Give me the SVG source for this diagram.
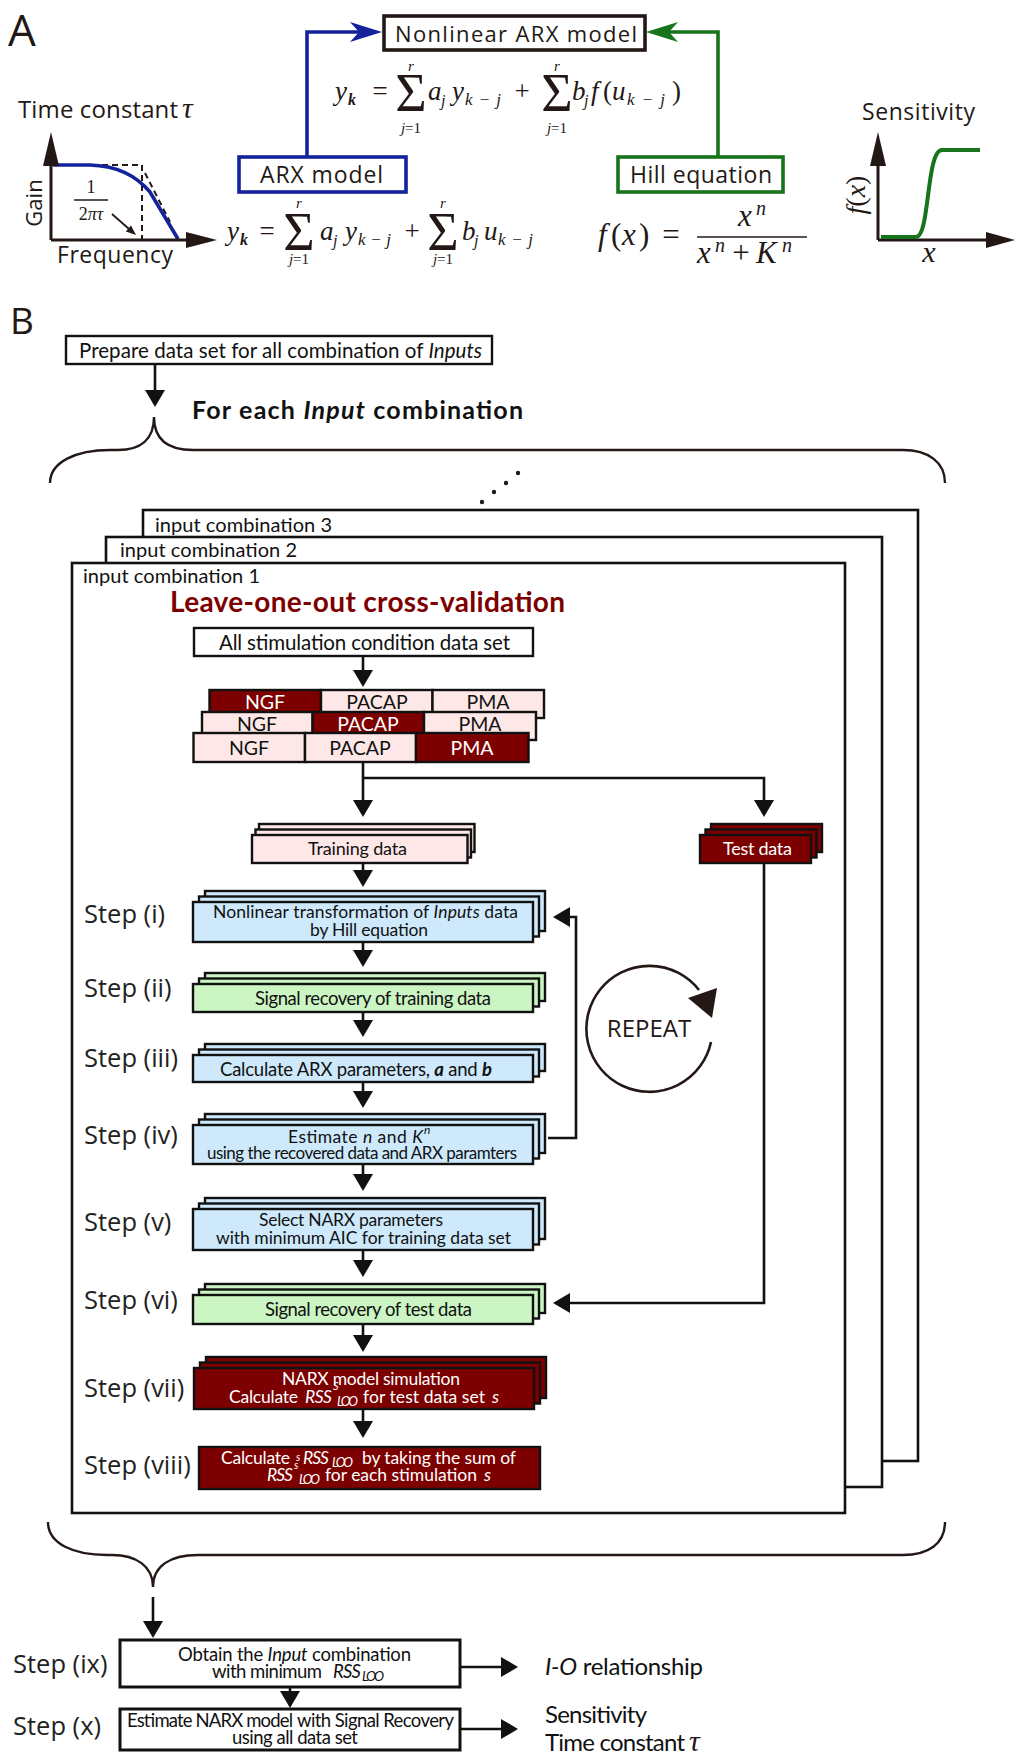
<svg xmlns="http://www.w3.org/2000/svg" width="1016" height="1754" viewBox="0 0 1016 1754">
<defs>
<style>
.sa{font-family:"Open Sans","Noto Sans",sans-serif;fill:#231815}
.lb{font-family:Lato,"Open Sans",sans-serif;fill:#111}
.lbb{font-family:Lato,"Open Sans",sans-serif;font-weight:bold}
.m{font-family:"Liberation Serif","Times New Roman",serif;font-style:italic;fill:#231815}
.up{font-style:normal}
.it{font-style:italic}
.wt{fill:#fff}
.bx{stroke:#111;stroke-width:2.4}
.fb{fill:#cde9fb}
.fg{fill:#cbf5c3}
.fp{fill:#fde7e7}
.fr{fill:#7d0000}
.fw{fill:#fff}
.cn{fill:none;stroke:#111;stroke-width:2.6}
.ax{fill:none;stroke:#231815;stroke-width:3}
.br{fill:none;stroke:#231815;stroke-width:2.4}
.stp{font-family:"Open Sans","Noto Sans",sans-serif;font-size:25.5px;fill:#222}
</style>
<marker id="ah" viewBox="0 0 17 20" refX="2" refY="10" markerWidth="17" markerHeight="20" markerUnits="userSpaceOnUse" orient="auto"><path d="M0,0 L17,10 L0,20 z" fill="#111"/></marker>
</defs>
<rect x="0" y="0" width="1016" height="1754" fill="#fff"/>

<!-- ================= Section A ================= -->
<g id="label-A"><text class="sa" x="8" y="46" font-size="44">A</text></g>

<g id="connectors-A">
  <path d="M307,156 V32 H362" fill="none" stroke="#13239b" stroke-width="3.6"/>
  <polygon points="382,32 350,22 359,32 350,42" fill="#13239b"/>
  <path d="M718,156 V32 H666" fill="none" stroke="#17731c" stroke-width="3.6"/>
  <polygon points="646,32 678,22 669,32 678,42" fill="#17731c"/>
</g>

<g id="node-narx">
  <rect x="384" y="16" width="261" height="34" fill="#fff" stroke="#231815" stroke-width="3.6"/>
  <text class="sa" x="395" y="42" font-size="22" textLength="242">Nonlinear ARX model</text>
  <g id="eq-narx">
    <text class="m" font-size="27" x="335" y="100">y</text>
    <text class="m" font-size="16" x="348" y="105" font-weight="bold">k</text>
    <text class="m up" font-size="27" x="380" y="100" text-anchor="middle">=</text>
    <text class="m up" font-size="54" x="411" y="111" text-anchor="middle">Σ</text>
    <text class="m" font-size="15" x="411" y="71" text-anchor="middle">r</text>
    <text class="m" font-size="15" x="411" y="133" text-anchor="middle">j<tspan class="up">=1</tspan></text>
    <text class="m" font-size="27" x="428" y="100">a</text>
    <text class="m" font-size="16" x="441" y="106">j</text>
    <text class="m" font-size="27" x="452" y="100">y</text>
    <text class="m" font-size="17" x="465" y="105" textLength="36">k−j</text>
    <text class="m up" font-size="27" x="522" y="100" text-anchor="middle">+</text>
    <text class="m up" font-size="54" x="557" y="111" text-anchor="middle">Σ</text>
    <text class="m" font-size="15" x="557" y="71" text-anchor="middle">r</text>
    <text class="m" font-size="15" x="557" y="133" text-anchor="middle">j<tspan class="up">=1</tspan></text>
    <text class="m" font-size="27" x="572" y="100">b</text>
    <text class="m" font-size="16" x="584" y="106">j</text>
    <text class="m" font-size="27" x="591" y="100">f</text>
    <text class="m up" font-size="27" x="603" y="100">(</text>
    <text class="m" font-size="27" x="612" y="100">u</text>
    <text class="m" font-size="17" x="627" y="105" textLength="38">k−j</text>
    <text class="m up" font-size="27" x="672" y="100">)</text>
  </g>
</g>

<g id="node-arx">
  <rect x="239" y="157" width="167" height="35" fill="#fff" stroke="#13239b" stroke-width="3.6"/>
  <text class="sa" x="260" y="183" font-size="23" textLength="123">ARX model</text>
  <g id="eq-arx">
    <text class="m" font-size="27" x="227" y="240">y</text>
    <text class="m" font-size="16" x="240" y="245" font-weight="bold">k</text>
    <text class="m up" font-size="27" x="267" y="240" text-anchor="middle">=</text>
    <text class="m up" font-size="54" x="299" y="250" text-anchor="middle">Σ</text>
    <text class="m" font-size="15" x="299" y="208" text-anchor="middle">r</text>
    <text class="m" font-size="15" x="299" y="264" text-anchor="middle">j<tspan class="up">=1</tspan></text>
    <text class="m" font-size="27" x="320" y="240">a</text>
    <text class="m" font-size="16" x="333" y="246">j</text>
    <text class="m" font-size="27" x="345" y="240">y</text>
    <text class="m" font-size="17" x="358" y="245" textLength="33">k−j</text>
    <text class="m up" font-size="27" x="412" y="240" text-anchor="middle">+</text>
    <text class="m up" font-size="54" x="443" y="250" text-anchor="middle">Σ</text>
    <text class="m" font-size="15" x="443" y="208" text-anchor="middle">r</text>
    <text class="m" font-size="15" x="443" y="264" text-anchor="middle">j<tspan class="up">=1</tspan></text>
    <text class="m" font-size="27" x="462" y="240">b</text>
    <text class="m" font-size="16" x="474" y="246">j</text>
    <text class="m" font-size="27" x="484" y="240">u</text>
    <text class="m" font-size="17" x="498" y="245" textLength="35">k−j</text>
  </g>
</g>

<g id="node-hill">
  <rect x="618" y="157" width="165" height="35" fill="#fff" stroke="#17731c" stroke-width="3.6"/>
  <text class="sa" x="630" y="183" font-size="23" textLength="142">Hill equation</text>
  <g id="eq-hill">
    <text class="m" font-size="31" x="598" y="245">f</text>
    <text class="m up" font-size="31" x="611" y="245">(</text>
    <text class="m" font-size="31" x="622" y="245">x</text>
    <text class="m up" font-size="31" x="639" y="245">)</text>
    <text class="m up" font-size="31" x="671" y="245" text-anchor="middle">=</text>
    <line x1="697" y1="237" x2="807" y2="237" stroke="#231815" stroke-width="1.6"/>
    <text class="m" font-size="31" x="738" y="226">x</text>
    <text class="m" font-size="20" x="756" y="215">n</text>
    <text class="m" font-size="31" x="697" y="263">x</text>
    <text class="m" font-size="20" x="715" y="252">n</text>
    <text class="m up" font-size="31" x="741" y="263" text-anchor="middle">+</text>
    <text class="m" font-size="31" x="756" y="263">K</text>
    <text class="m" font-size="20" x="782" y="252">n</text>
  </g>
</g>

<g id="plot-gain">
  <text class="sa" x="18" y="118" font-size="24" textLength="160">Time constant</text>
  <text class="m" x="182" y="118" font-size="30">τ</text>
  <path d="M52,165 L142,165 M142,165 L142,240 M145,173 L170,222" fill="none" stroke="#231815" stroke-width="2" stroke-dasharray="6,4"/>
  <path d="M53,165 L90,165 Q128,166 150,192 L178,239" fill="none" stroke="#13239b" stroke-width="3.6"/>
  <path d="M51,240 V160 M51,240 H190" class="ax"/>
  <polygon points="51,132 43,166 59,166" fill="#231815"/>
  <polygon points="217,240 186,232 186,248" fill="#231815"/>
  <text class="sa" x="42" y="203" font-size="22" text-anchor="middle" transform="rotate(-90 42 203)">Gain</text>
  <text class="sa" x="57" y="263" font-size="23" textLength="116">Frequency</text>
  <text class="m up" x="91" y="193" font-size="18" text-anchor="middle">1</text>
  <line x1="74" y1="200" x2="108" y2="200" stroke="#231815" stroke-width="1.5"/>
  <text class="m" x="91" y="220" font-size="18" text-anchor="middle"><tspan class="up">2</tspan>πτ</text>
  <line x1="112" y1="214" x2="129" y2="229" stroke="#231815" stroke-width="1.8"/>
  <polygon points="136,235 125.8,231.5 131,225.5" fill="#231815"/>
</g>

<g id="plot-sensitivity">
  <text class="sa" x="862" y="120" font-size="23" textLength="113">Sensitivity</text>
  <path d="M878,240 V160 M878,240 H988" class="ax"/>
  <polygon points="878,132 870,166 886,166" fill="#231815"/>
  <polygon points="1015,240 986,232 986,248" fill="#231815"/>
  <path d="M881,237 L916,237 C930,237 926,150 942,150 L980,150" fill="none" stroke="#17731c" stroke-width="4"/>
  <text class="m" x="865" y="195" font-size="28" text-anchor="middle" transform="rotate(-90 865 195)">f<tspan class="up">(</tspan>x<tspan class="up">)</tspan></text>
  <text class="m" x="929" y="262" font-size="30" text-anchor="middle">x</text>
</g>

<!-- ================= Section B ================= -->
<g id="label-B"><text class="sa" x="10" y="334" font-size="37">B</text></g>

<g id="node-prepare">
  <rect x="66" y="336" width="426" height="28" fill="#fff" class="bx"/>
  <text class="lb" x="79" y="358" font-size="20.5" textLength="403">Prepare data set for all combination of <tspan class="it">Inputs</tspan></text>
</g>

<g id="header-each">
  <text class="lbb" x="192" y="419" font-size="25" fill="#111" textLength="331">For each  <tspan class="it">Input</tspan>  combination</text>
  <path class="br" d="M50,483 C50,462 76,450 110,450 L118,450 C140,450 154,440 154,417 C154,440 168,450 193,450 L903,450 C928,450 945,462 945,483"/>
  <g fill="#231815"><circle cx="482" cy="502" r="2.2"/><circle cx="494" cy="492" r="2.2"/><circle cx="506" cy="483" r="2.2"/><circle cx="518" cy="473" r="2.2"/></g>
</g>

<g id="frames">
  <rect x="143" y="510" width="775" height="951" fill="#fff" stroke="#111" stroke-width="2.6"/>
  <text class="lb" x="155" y="532" font-size="20" textLength="177">input combination 3</text>
  <rect x="106" y="537" width="776" height="950" fill="#fff" stroke="#111" stroke-width="2.6"/>
  <text class="lb" x="120" y="557" font-size="20" textLength="177">input combination 2</text>
  <rect x="72" y="563" width="773" height="950" fill="#fff" stroke="#111" stroke-width="2.6"/>
  <text class="lb" x="83" y="583" font-size="20" textLength="177">input combination 1</text>
  <text class="lbb" x="170" y="612" font-size="28" fill="#7d0000" textLength="395">Leave-one-out cross-validation</text>
</g>

<g id="node-allstim">
  <rect x="194" y="628" width="339" height="28" fill="#fff" class="bx"/>
  <text class="lb" x="219" y="650" font-size="20.5" textLength="291">All stimulation condition data set</text>
</g>

<g id="node-rows" font-family="Lato,'Open Sans',sans-serif" font-size="19.5" text-anchor="middle">
  <rect x="209.5" y="690" width="111.5" height="28" class="bx fr"/>
  <rect x="321" y="690" width="111.5" height="28" class="bx fp"/>
  <rect x="432.5" y="690" width="111.5" height="28" class="bx fp"/>
  <text x="265" y="709" fill="#fff">NGF</text>
  <text x="377" y="709" fill="#111">PACAP</text>
  <text x="488" y="709" fill="#111">PMA</text>
  <rect x="202" y="712" width="110.6" height="28" class="bx fp"/>
  <rect x="312.6" y="712" width="111.4" height="28" class="bx fr"/>
  <rect x="424" y="712" width="112" height="28" class="bx fp"/>
  <text x="257" y="731" fill="#111">NGF</text>
  <text x="368" y="731" fill="#fff">PACAP</text>
  <text x="480" y="731" fill="#111">PMA</text>
  <rect x="193.5" y="733" width="111.5" height="29" class="bx fp"/>
  <rect x="305" y="733" width="111" height="29" class="bx fp"/>
  <rect x="416" y="733" width="112.5" height="29" class="bx fr"/>
  <text x="249" y="755" fill="#111">NGF</text>
  <text x="360" y="755" fill="#111">PACAP</text>
  <text x="472" y="755" fill="#fff">PMA</text>
</g>

<g id="node-training">
  <rect x="259" y="824" width="215.5" height="28" class="bx fp"/>
  <rect x="255.5" y="829.5" width="215.5" height="28" class="bx fp"/>
  <rect x="252" y="835" width="215.5" height="28" class="bx fp"/>
  <text class="lb" x="308" y="855" font-size="18" textLength="99">Training data</text>
</g>

<g id="node-test">
  <rect x="711" y="824" width="111" height="28" class="bx fr"/>
  <rect x="705.5" y="829.5" width="111" height="28" class="bx fr"/>
  <rect x="700" y="835" width="111" height="28" class="bx fr"/>
  <text class="lb wt" x="723" y="855" font-size="18" textLength="69">Test data</text>
</g>

<g id="step-i">
  <text class="stp" x="84" y="923">Step (i)</text>
  <rect x="205" y="891" width="340" height="40" class="bx fb"/>
  <rect x="199" y="896.5" width="340" height="40" class="bx fb"/>
  <rect x="193" y="902" width="340" height="40" class="bx fb"/>
  <text class="lb" x="213" y="918" font-size="17.5" textLength="305">Nonlinear transformation of <tspan class="it">Inputs</tspan> data</text>
  <text class="lb" x="310" y="936" font-size="17.5" textLength="118">by Hill equation</text>
</g>

<g id="step-ii">
  <text class="stp" x="84" y="997">Step (ii)</text>
  <rect x="205" y="973" width="340" height="28" class="bx fg"/>
  <rect x="199" y="978.5" width="340" height="28" class="bx fg"/>
  <rect x="193" y="984" width="340" height="28" class="bx fg"/>
  <text class="lb" x="255" y="1005" font-size="18.5" textLength="236">Signal recovery of training data</text>
</g>

<g id="step-iii">
  <text class="stp" x="84" y="1067">Step (iii)</text>
  <rect x="205" y="1044" width="340" height="27" class="bx fb"/>
  <rect x="199" y="1049.5" width="340" height="27" class="bx fb"/>
  <rect x="193" y="1055" width="340" height="27" class="bx fb"/>
  <text class="lb" x="220" y="1076" font-size="18.5" textLength="272">Calculate ARX parameters,  <tspan class="it" font-weight="bold">a</tspan> and <tspan class="it" font-weight="bold">b</tspan></text>
</g>

<g id="step-iv">
  <text class="stp" x="84" y="1144">Step (iv)</text>
  <rect x="205" y="1114" width="340" height="39" class="bx fb"/>
  <rect x="199" y="1119.5" width="340" height="39" class="bx fb"/>
  <rect x="193" y="1125" width="340" height="39" class="bx fb"/>
  <text class="lb" x="288" y="1143" font-size="17.5" textLength="135">Estimate  <tspan class="it">n</tspan>  and <tspan class="it">K</tspan></text>
  <text class="lb it" x="424" y="1134" font-size="12">n</text>
  <text class="lb" x="207" y="1159" font-size="17" textLength="310">using the recovered data and ARX paramters</text>
</g>

<g id="step-v">
  <text class="stp" x="84" y="1231">Step (v)</text>
  <rect x="205" y="1198" width="340" height="41" class="bx fb"/>
  <rect x="199" y="1203.5" width="340" height="41" class="bx fb"/>
  <rect x="193" y="1209" width="340" height="41" class="bx fb"/>
  <text class="lb" x="259" y="1226" font-size="17.5" textLength="184">Select NARX parameters</text>
  <text class="lb" x="216" y="1244" font-size="17.5" textLength="295">with minimum AIC for training data set</text>
</g>

<g id="step-vi">
  <text class="stp" x="84" y="1309">Step (vi)</text>
  <rect x="205" y="1284" width="340" height="29" class="bx fg"/>
  <rect x="199" y="1289.5" width="340" height="29" class="bx fg"/>
  <rect x="193" y="1295" width="340" height="29" class="bx fg"/>
  <text class="lb" x="265" y="1316" font-size="18.5" textLength="207">Signal recovery of test data</text>
</g>

<g id="step-vii">
  <text class="stp" x="84" y="1397">Step (vii)</text>
  <rect x="206" y="1357" width="340" height="41" class="bx fr"/>
  <rect x="200" y="1362.5" width="340" height="41" class="bx fr"/>
  <rect x="194" y="1368" width="340" height="41" class="bx fr"/>
  <g class="lb" fill="#fff" font-size="17.5">
    <text x="282" y="1385" fill="#fff" textLength="178">NARX model simulation</text>
    <text x="229" y="1403" fill="#fff" textLength="69">Calculate</text>
    <text x="305" y="1403" fill="#fff" font-style="italic" textLength="27">RSS</text>
    <text x="333" y="1390" fill="#fff" font-style="italic" font-size="11">S</text>
    <text x="337" y="1406" fill="#fff" font-style="italic" font-size="13" textLength="21">LOO</text>
    <text x="363" y="1403" fill="#fff" textLength="122">for test data set</text>
    <text x="492" y="1403" fill="#fff" font-style="italic">s</text>
  </g>
</g>

<g id="step-viii">
  <text class="stp" x="84" y="1474">Step (viii)</text>
  <rect x="199" y="1447" width="341" height="42" class="bx fr"/>
  <g class="lb" font-size="17.5">
    <text x="221" y="1464" fill="#fff" textLength="69">Calculate</text>
    <text x="296" y="1461" fill="#fff" font-style="italic" font-size="11">s</text>
    <text x="303" y="1464" fill="#fff" font-style="italic" textLength="26">RSS</text>
    <text x="332" y="1467" fill="#fff" font-style="italic" font-size="13" textLength="21">LOO</text>
    <text x="362" y="1464" fill="#fff" textLength="154">by taking the sum of</text>
    <text x="267" y="1481" fill="#fff" font-style="italic" textLength="26">RSS</text>
    <text x="294" y="1469" fill="#fff" font-style="italic" font-size="11">s</text>
    <text x="299" y="1484" fill="#fff" font-style="italic" font-size="13" textLength="21">LOO</text>
    <text x="325" y="1481" fill="#fff" textLength="152">for each stimulation</text>
    <text x="484" y="1481" fill="#fff" font-style="italic">s</text>
  </g>
</g>

<g id="repeat">
  <path d="M711,1042 A63,63 0 1 1 699,990" fill="none" stroke="#231815" stroke-width="2.6"/>
  <polygon points="688,998 717,988 712,1018" fill="#231815"/>
  <text class="sa" x="649" y="1037" font-size="24" text-anchor="middle">REPEAT</text>
</g>

<g id="brace-bottom">
  <path class="br" d="M48,1522 C48,1544 74,1555 107,1555 L112,1555 C136,1555 153,1566 153,1587 C153,1566 170,1555 198,1555 L903,1555 C928,1555 945,1544 945,1522"/>
</g>

<g id="step-ix">
  <text class="stp" x="13" y="1673">Step (ix)</text>
  <rect x="120" y="1640" width="340" height="47" fill="#fff" stroke="#111" stroke-width="3"/>
  <text class="lb" x="178" y="1661" font-size="18.5" textLength="233">Obtain the <tspan class="it">Input</tspan> combination</text>
  <text class="lb" x="212" y="1678" font-size="18.5" textLength="110">with minimum</text>
  <text class="lb it" x="333" y="1678" font-size="18.5" textLength="28">RSS</text>
  <text class="lb it" x="362" y="1681" font-size="13.5" textLength="22">LOO</text>
</g>

<g id="step-x">
  <text class="stp" x="13" y="1735">Step (x)</text>
  <rect x="120" y="1709" width="340" height="41" fill="#fff" stroke="#111" stroke-width="3"/>
  <text class="lb" x="127" y="1727" font-size="18.5" fill="#2b2f9e" textLength="166">Estimate NARX model</text>
  <text class="lb" x="297" y="1727" font-size="18.5" fill="#1f8a2e" textLength="157">with Signal Recovery</text>
  <text class="lb" x="232" y="1744" font-size="18.5" textLength="126">using all data set</text>
</g>

<g id="outputs">
  <text class="lb" x="545" y="1675" font-size="24" textLength="158"><tspan class="it">I-O</tspan> relationship</text>
  <text class="lb" x="545" y="1723" font-size="24" textLength="102">Sensitivity</text>
  <text class="lb" x="545" y="1751" font-size="24" textLength="140">Time constant</text>
  <text class="m" x="689" y="1751" font-size="30">τ</text>
</g>

<g id="connectors" class="cn" marker-end="url(#ah)">
  <path class="cn" d="M155,364 V392" marker-end="url(#ah)"/>
  <path class="cn" d="M363,657 V672" marker-end="url(#ah)"/>
  <path class="cn" d="M363,762 V802" marker-end="url(#ah)"/>
  <path class="cn" d="M363,778 H764 V802" marker-end="url(#ah)"/>
  <path class="cn" d="M363,863 V872" marker-end="url(#ah)"/>
  <path class="cn" d="M363,942 V952" marker-end="url(#ah)"/>
  <path class="cn" d="M363,1012 V1022" marker-end="url(#ah)"/>
  <path class="cn" d="M363,1082 V1093" marker-end="url(#ah)"/>
  <path class="cn" d="M363,1164 V1176" marker-end="url(#ah)"/>
  <path class="cn" d="M363,1250 V1262" marker-end="url(#ah)"/>
  <path class="cn" d="M363,1324 V1337" marker-end="url(#ah)"/>
  <path class="cn" d="M363,1409 V1423" marker-end="url(#ah)"/>
  <path class="cn" d="M548,1138 H576 V917 H568" marker-end="url(#ah)"/>
  <path class="cn" d="M764,863 V1303 H568" marker-end="url(#ah)"/>
  <path class="cn" d="M153,1597 V1623" marker-end="url(#ah)"/>
  <path class="cn" d="M290,1687 V1693" marker-end="url(#ah)"/>
  <path class="cn" d="M460,1667 H503" marker-end="url(#ah)"/>
  <path class="cn" d="M460,1729 H503" marker-end="url(#ah)"/>
</g>
</svg>
